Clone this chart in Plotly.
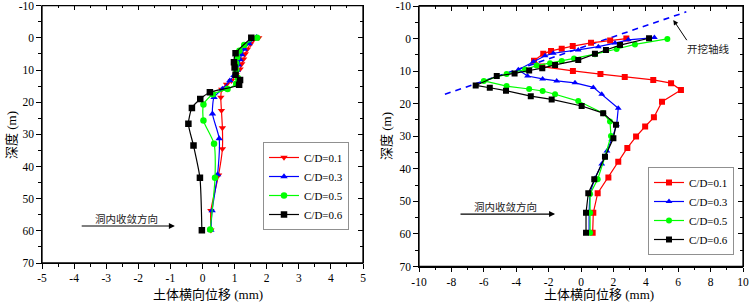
import plotly.graph_objects as go

# ---------------- data ----------------
series_names = ["C/D=0.1", "C/D=0.3", "C/D=0.5", "C/D=0.6"]
series_colors = ["#FF0000", "#0000FF", "#00FF00", "#000000"]

# Left chart
red_L_x = [1.75, 1.5, 1.4, 1.33, 1.28, 1.22, 1.17, 1.05, 0.9, 0.75, 0.6, 0.57, 0.59, 0.62, 0.62, 0.5, 0.26, 0.26]
red_L_d = [0, 1.9, 3.5, 5.0, 6.6, 8.1, 9.7, 11.5, 13.3, 14.5, 16.0, 18.5, 22.6, 28.0, 34.5, 42.7, 53.7, 59.8]
blue_L_x = [1.68, 1.45, 1.3, 1.22, 1.17, 1.12, 1.08, 0.98, 0.85, 0.62, 0.36, 0.31, 0.52, 0.47, 0.3, 0.26]
blue_L_d = [-0.2, 1.8, 3.5, 5.2, 6.8, 8.4, 10.0, 11.7, 13.3, 15.9, 18.5, 23.6, 31.3, 42.5, 53.7, 59.8]
green_L_x = [1.7, 1.3, 1.15, 1.08, 1.05, 1.05, 1.1, 1.05, 0.78, 0.32, 0.03, 0.03, 0.36, 0.39, 0.24]
green_L_d = [0, 2.2, 4.0, 6.0, 8.0, 10.0, 12.5, 14.3, 15.9, 17.5, 20.7, 25.7, 32.9, 43.5, 59.6]
black_L_x = [1.52, 1.03, 0.98, 1.0, 1.03, 1.17, 1.14, 0.23, -0.07, -0.33, -0.44, -0.28, -0.08, -0.02]
black_L_d = [0, 4.8, 7.6, 9.2, 11.5, 13.1, 14.6, 16.9, 19.0, 21.8, 26.7, 33.5, 43.5, 59.8]

# Right chart
red_R_x = [2.8, 1.8, 0.62, -0.51, -1.19, -1.85, -2.33, -2.9, -2.4, -0.5, 1.2, 2.7, 4.46, 5.56, 6.17, 5.0, 4.5, 3.96, 3.4, 2.86, 2.3, 1.69, 1.03, 0.76, 0.72]
red_R_d = [0, 0.6, 1.3, 2.3, 3.1, 3.8, 4.7, 6.8, 8.6, 9.95, 10.9, 11.8, 12.7, 13.7, 15.8, 19.4, 24.2, 27.0, 30.1, 33.6, 37.8, 42.7, 47.5, 53.5, 59.6]
blue_R_x = [4.53, 2.92, 2.1, 1.07, -0.17, -1.71, -2.22, -2.94, -3.87, -3.3, -2.37, -1.5, -0.37, 0.76, 1.28, 2.3, 2.2, 1.9, 1.6, 1.28, 0.85, 0.55, 0.5, 0.5]
blue_R_d = [-0.3, 0.4, 1.4, 2.5, 3.5, 4.5, 5.3, 7.1, 9.6, 11.5, 12.4, 13.0, 13.6, 15.0, 17.1, 21.4, 26.5, 31.0, 34.5, 38.5, 43.0, 47.5, 53.5, 59.6]
green_R_x = [5.33, 3.33, 2.2, 0.86, -0.43, -1.19, -1.91, -2.74, -3.45, -4.59, -6.0, -4.59, -3.2, -2.37, -1.6, -0.17, 1.37, 1.79, 1.85, 1.48, 1.03, 0.56, 0.56, 0.56]
green_R_d = [0.1, 1.8, 3.2, 4.8, 6.1, 6.9, 7.6, 8.3, 9.5, 10.9, 13.0, 14.6, 15.5, 16.1, 17.1, 19.2, 22.9, 25.5, 29.9, 36.3, 43.2, 47.7, 53.5, 59.6]
black_R_x = [4.2, 2.41, 1.54, 0.86, -0.17, -1.6, -2.39, -3.2, -4.1, -5.2, -6.5, -5.63, -4.63, -3.1, -1.81, 0.04, 1.37, 2.16, 2.0, 1.48, 0.82, 0.45, 0.31, 0.31]
black_R_d = [-0.1, 2.0, 3.5, 4.7, 6.6, 8.1, 9.1, 9.8, 10.7, 11.5, 14.4, 15.1, 16.0, 17.7, 18.7, 20.7, 22.9, 26.5, 30.6, 36.3, 43.2, 47.5, 53.5, 59.6]

# excavation axis (dashed)
axis_line_x = [-8.4, 6.5]
axis_line_d = [17.1, -8.2]

# tick labels
left_x_ticks = [-5, -4, -3, -2, -1, 0, 1, 2, 3, 4, 5]
right_x_ticks = [-10, -8, -6, -4, -2, 0, 2, 4, 6, 8, 10]
y_ticks = [-10, 0, 10, 20, 30, 40, 50, 60, 70]

# ---------------- style ----------------
FONT = "'Liberation Serif', 'Noto Sans CJK SC', serif"
CJK = "'Noto Sans CJK SC', sans-serif"
W, H = 749, 304

fig = go.Figure()

left_data = [(red_L_x, red_L_d), (blue_L_x, blue_L_d), (green_L_x, green_L_d), (black_L_x, black_L_d)]
right_data = [(red_R_x, red_R_d), (blue_R_x, blue_R_d), (green_R_x, green_R_d), (black_R_x, black_R_d)]
left_symbols = ["triangle-down", "triangle-up", "circle", "square"]
right_symbols = ["square", "triangle-up", "circle", "square"]

# right chart on x/y, left chart on x2/y2
fig.add_trace(go.Scatter(
    x=axis_line_x, y=axis_line_d, mode="lines", showlegend=False,
    line=dict(color="#0000FF", width=1.6, dash="6px,5px"),
    xaxis="x", yaxis="y"))

for (xs, ds), name, col, sym in zip(right_data, series_names, series_colors, right_symbols):
    fig.add_trace(go.Scatter(
        x=xs, y=ds, name=name, mode="lines+markers",
        line=dict(color=col, width=1.2),
        marker=dict(symbol=sym, size=6, color=col),
        xaxis="x", yaxis="y", legend="legend3"))

for (xs, ds), name, col, sym in zip(left_data, series_names, series_colors, left_symbols):
    fig.add_trace(go.Scatter(
        x=xs, y=ds, name=name, mode="lines+markers",
        line=dict(color=col, width=1.2, shape="spline", smoothing=0.6),
        marker=dict(symbol=sym, size=6.5, color=col),
        xaxis="x2", yaxis="y2", legend="legend2"))

# empty traces to activate the mirror (top/right) axes
fig.add_trace(go.Scatter(x=[None], y=[None], xaxis="x3", yaxis="y3", showlegend=False, hoverinfo="skip"))
fig.add_trace(go.Scatter(x=[None], y=[None], xaxis="x4", yaxis="y4", showlegend=False, hoverinfo="skip"))

tickfont = dict(family=FONT, size=11.5, color="black")
common = dict(showline=True, linecolor="black", linewidth=1.3, showgrid=False,
              zeroline=False, tickcolor="black", tickwidth=1.1, tickfont=tickfont,
              fixedrange=True, ticklabeloverflow="allow")

Ldom = [42 / W, 363 / W]
Rdom = [419 / W, 743 / W]
LYdom = [1 - 263 / H, 1 - 5.7 / H]
RYdom = [1 - 266.5 / H, 1 - 6 / H]

def xaxis(dom, anchor, ticks, rng, minor_step, side="bottom", mirror_axis=False):
    inside = mirror_axis
    d = dict(common)
    d.update(domain=dom, anchor=anchor, range=rng, tickmode="array",
             tickvals=ticks, ticktext=[str(t) for t in ticks],
             ticks="inside" if inside else "outside", ticklen=4.5, side=side,
             showticklabels=not mirror_axis,
             minor=dict(dtick=minor_step, tick0=0, ticks="inside" if inside else "outside",
                        ticklen=2.5, tickcolor="black", tickwidth=1.0))
    return d

def yaxis(dom, anchor, side="left", mirror_axis=False):
    inside = mirror_axis
    d = dict(common)
    d.update(domain=dom, anchor=anchor, range=[70, -10], tickmode="array",
             tickvals=y_ticks, ticktext=[str(t) for t in y_ticks],
             ticks="inside" if inside else "outside", ticklen=4.5, side=side,
             showticklabels=not mirror_axis,
             minor=dict(dtick=5, tick0=0, ticks="inside" if inside else "outside",
                        ticklen=2.5, tickcolor="black", tickwidth=1.0))
    return d

fig.update_layout(
    template="none",
    width=W, height=H,
    margin=dict(l=0, r=0, t=0, b=0),
    paper_bgcolor="white", plot_bgcolor="rgba(0,0,0,0)",
    font=dict(family=FONT, size=12, color="black"),
    xaxis=xaxis(Rdom, "y", right_x_ticks, [-10, 10], 1),
    yaxis=yaxis(RYdom, "x"),
    xaxis2=xaxis(Ldom, "y2", left_x_ticks, [-5, 5], 0.5),
    yaxis2=yaxis(LYdom, "x2"),
    xaxis3=xaxis(Rdom, "y3", right_x_ticks, [-10, 10], 1, side="top", mirror_axis=True),
    yaxis3=yaxis(RYdom, "x3", side="right", mirror_axis=True),
    xaxis4=xaxis(Ldom, "y4", left_x_ticks, [-5, 5], 0.5, side="top", mirror_axis=True),
    yaxis4=yaxis(LYdom, "x4", side="right", mirror_axis=True),
    legend2=dict(x=263 / W, y=1 - 186 / H, xanchor="left", yanchor="middle",
                 bordercolor="#909090", borderwidth=1, bgcolor="white",
                 font=dict(family=FONT, size=11), itemwidth=30, tracegroupgap=0),
    legend3=dict(x=648 / W, y=1 - 211 / H, xanchor="left", yanchor="middle",
                 bordercolor="#909090", borderwidth=1, bgcolor="white",
                 font=dict(family=FONT, size=11), itemwidth=30, tracegroupgap=0),
    showlegend=True,
)

# plot frames in paper coordinates (from the axis domains)
for xd, yd in ((Ldom, LYdom), (Rdom, RYdom)):
    fig.add_shape(type="rect", xref="paper", yref="paper",
                  x0=xd[0], x1=xd[1], y0=yd[0], y1=yd[1],
                  line=dict(color="black", width=1.3),
                  fillcolor="rgba(0,0,0,0)", layer="above")

def ptxt(text, px, py, angle=0):
    return dict(text=text, x=px / W, y=1 - py / H, xref="paper", yref="paper",
                xanchor="center", yanchor="middle", textangle=angle,
                showarrow=False, font=dict(family=FONT, size=13))

annos = [
    ptxt("土体横向位移 (mm)", 208, 294),
    ptxt("土体横向位移 (mm)", 599, 294),
    ptxt("深度 (m)", 11, 135, -90),
    ptxt("深度 (m)", 386, 136, -90),
    # direction arrows
    dict(text="", x=-0.86, y=58.5, ax=-3.81, ay=58.5, xref="x2", yref="y2", axref="x2", ayref="y2",
         showarrow=True, arrowhead=2, arrowsize=1, arrowwidth=1.2, arrowcolor="black"),
    dict(text="洞内收敛方向", x=-2.38, y=56.2, xref="x2", yref="y2", showarrow=False,
         xanchor="center", yanchor="middle", font=dict(family=CJK, size=10.5, color="#222")),
    dict(text="", x=-1.6, y=53.9, ax=-7.53, ay=53.9, xref="x", yref="y", axref="x", ayref="y",
         showarrow=True, arrowhead=2, arrowsize=1, arrowwidth=1.2, arrowcolor="black"),
    dict(text="洞内收敛方向", x=-4.69, y=51.6, xref="x", yref="y", showarrow=False,
         xanchor="center", yanchor="middle", font=dict(family=CJK, size=10.5, color="#222")),
    # excavation axis label
    dict(text="", x=5.7, y=-5.7, ax=6.59, ay=0.95, xref="x", yref="y", axref="x", ayref="y",
         showarrow=True, arrowhead=2, arrowsize=1, arrowwidth=1.0, arrowcolor="black"),
    dict(text="开挖轴线", x=7.84, y=3.0, xref="x", yref="y", showarrow=False,
         xanchor="center", yanchor="middle", font=dict(family=CJK, size=10.5, color="#222")),
]
fig.update_layout(annotations=annos)

fig.write_html("out.html", config={"displayModeBar": False},
               post_script="document.body.style.margin='0px';document.body.style.padding='0px';")
